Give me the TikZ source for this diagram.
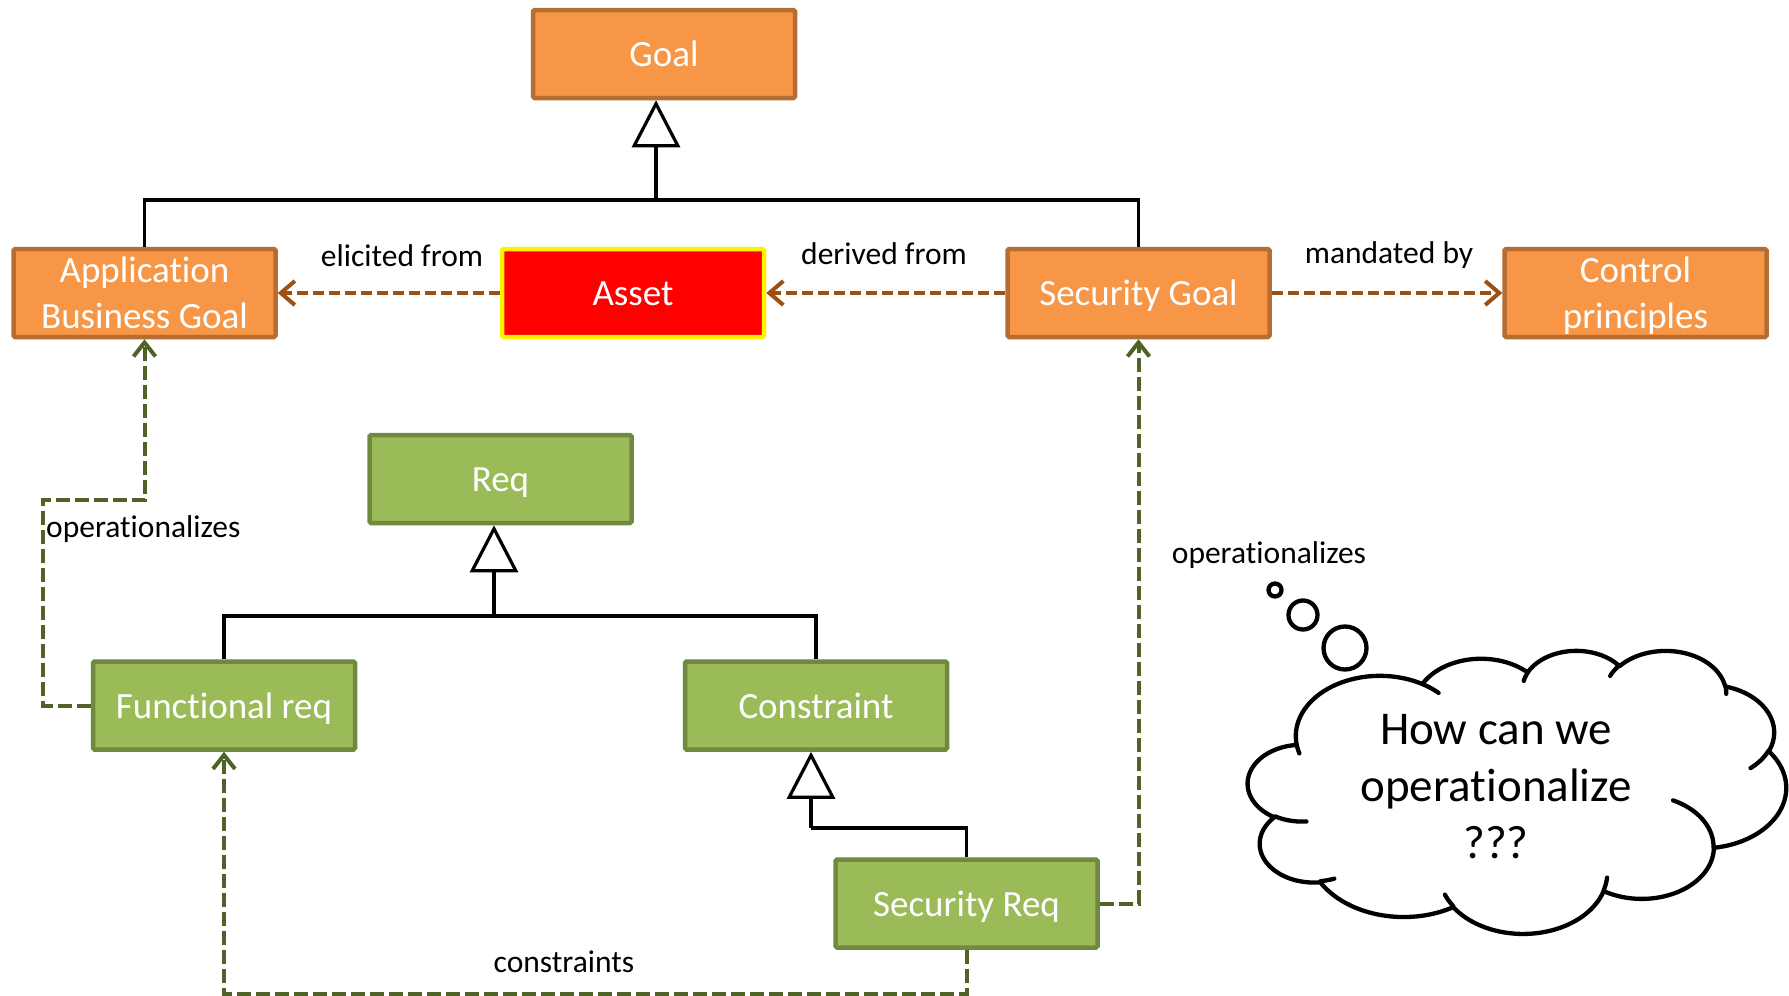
\documentclass[tikz,border=0pt]{standalone}
\usepackage{fontspec}
\setmainfont{Carlito}[Ligatures=NoCommon]
\usetikzlibrary{arrows.meta}
\definecolor{orfill}{HTML}{F79646}
\definecolor{ordraw}{HTML}{B66D31}
\definecolor{grfill}{HTML}{9BBB59}
\definecolor{grdraw}{HTML}{71893F}
\definecolor{brarrow}{HTML}{9E4F12}
\definecolor{grarrow}{HTML}{4F6228}
\tikzset{
  box/.style={draw, line width=4.5pt, rounded corners=1.5pt, minimum width=262pt, minimum height=88pt, inner sep=0pt, text=white, font=\fontsize{37}{46}\selectfont, align=center},
  oneline/.style={text height=28pt, text depth=3pt},
  twoline/.style={text depth=0pt},
  orbox/.style={box, fill=orfill, draw=ordraw},
  grbox/.style={box, fill=grfill, draw=grdraw},
  assetbox/.style={box, fill=red, draw=yellow},
  lbl/.style={font=\fontsize{31.5}{38}\selectfont, inner sep=0pt},
  genline/.style={line width=3.2pt, draw=black},
  gentip/.style={-{Triangle[fill=white, length=47pt, width=48pt, line width=3.2pt]}},
  brdash/.style={draw=brarrow, line width=4pt, dash pattern=on 11pt off 5pt, -{Straight Barb[length=14pt,width=24pt,line width=4pt]}},
  grdash/.style={draw=grarrow, line width=4pt, dash pattern=on 14pt off 5pt, -{Straight Barb[length=14pt,width=22pt,line width=4pt]}},
  cloudline/.style={draw=black, line width=4.3pt, line join=round, line cap=round},
  bubble/.style={circle, draw=black, line width=4.3pt, inner sep=0pt},
}
\begin{document}
\begin{tikzpicture}[x=1pt, y=-1pt]
\useasboundingbox (0,0) rectangle (1789,996);
\fill[white] (0,0) rectangle (1789,996);

% boxes
\node[orbox, oneline] (goal) at (664,54) {Goal};
\node[orbox, twoline] (abg) at (144.5,293) {Application\\Business Goal};
\node[assetbox, oneline] (asset) at (633,293) {Asset};
\node[orbox, oneline] (sg) at (1138.5,293) {Security Goal};
\node[orbox, twoline] (cp) at (1635.5,293) {Control\\principles};
\node[grbox, oneline] (req) at (500.5,479) {Req};
\node[grbox, oneline] (fr) at (224,705.5) {Functional req};
\node[grbox, oneline] (con) at (816,705.5) {Constraint};
\node[grbox, oneline] (sr) at (966.5,903.5) {Security Req};

% generalizations
\coordinate (j1) at (656,200);
\draw[genline] (abg.north) |- (j1) -| (sg.north);
\draw[genline, gentip] (j1) -- (j1 |- goal.south);
\coordinate (j2) at (494,616);
\draw[genline] (fr.north) |- (j2) -| (con.north);
\draw[genline, gentip] (j2) -- (j2 |- req.south);
\coordinate (j3) at (811,828);
\draw[genline] (sr.north) |- (j3);
\draw[genline, gentip] (j3) -- (j3 |- con.south);

% orange dashed
\draw[brdash] (asset.west) -- (abg.east);
\draw[brdash] (sg.west) -- (asset.east);
\draw[brdash] (sg.east) -- (cp.west);

% green dashed
\coordinate (op1) at (43,500);
\draw[grdash] (fr.west) -| (op1) -| (abg.south);
\draw[grdash] (sr.east) -| (sg.south);
\coordinate (cb) at (966.5,994);
\draw[grdash] (sr.south) -- (sr.south |- cb) -| (fr.south);

% labels
\node[lbl] (l1) at (402,256) {elicited from};
\node[lbl] (l2) at (884,254) {derived from};
\node[lbl] (l3) at (1389,255) {mandated by};
\node[lbl, anchor=west] (l4) at (46,529) {operationalizes};
\node[lbl] (l5) at (1269,555) {operationalizes};
\node[lbl] (l6) at (564,962) {constraints};

% thought bubbles
\node[bubble, minimum size=13pt] (b1) at (1275,590) {};
\node[bubble, minimum size=29pt] (b2) at (1303,615) {};
\node[bubble, minimum size=43pt] (b3) at (1345,648) {};

% cloud
\begin{scope}[shift={(1248pt,-650pt)}, x=0.12454pt, y=-0.0655pt]
\draw[cloudline, fill=white]
  plot[domain=-187.75:-59.67, samples=40, variable=\t] ({1059.1+675.3*cos(\t)},{1313.1+919.0*sin(\t)})
  -- plot[domain=-152.06:-45.46, samples=40, variable=\t] ({1871.3+533.3*cos(\t)},{860.2+726.7*sin(\t)})
  -- plot[domain=-153.49:-37.32, samples=40, variable=\t] ({2636.0+436.5*cos(\t)},{607.6+594.5*sin(\t)})
  -- plot[domain=-139.72:-10.22, samples=40, variable=\t] ({3353.7+485.7*cos(\t)},{673.6+659.5*sin(\t)})
  -- plot[domain=-74.77:23.21, samples=40, variable=\t] ({3691.6+533.3*cos(\t)},{1258.4+727.3*sin(\t)})
  -- plot[domain=-37.52:81.86, samples=40, variable=\t] ({3644.4+677.5*cos(\t)},{2106.5+922.0*sin(\t)})
  -- plot[domain=0.46:121.98, samples=40, variable=\t] ({3161.8+578.5*cos(\t)},{3012.9+786.7*sin(\t)})
  -- plot[domain=16.84:146.22, samples=40, variable=\t] ({2209.2+675.2*cos(\t)},{3413.3+921.5*sin(\t)})
  -- plot[domain=58.99:150.19, samples=40, variable=\t] ({1250.3+772.0*cos(\t)},{3022.1+1054.3*sin(\t)})
  -- plot[domain=83.31:223.12, samples=40, variable=\t] ({529.6+436.0*cos(\t)},{2958.3+591.8*sin(\t)})
  -- plot[domain=120.36:264.11, samples=40, variable=\t] ({431.0+434.5*cos(\t)},{2040.8+594.5*sin(\t)})
  -- cycle;
\draw[cloudline] plot[domain=85.54:120.36, samples=20, variable=\t] ({435.5+434.5*cos(\t)},{2025.0+594.5*sin(\t)});
\draw[cloudline] plot[domain=68.24:83.31, samples=20, variable=\t] ({531.2+436.0*cos(\t)},{2940.3+591.8*sin(\t)});
\draw[cloudline] plot[domain=146.22:158.47, samples=20, variable=\t] ({2209.0+675.2*cos(\t)},{3396.6+921.5*sin(\t)});
\draw[cloudline] plot[domain=4.74:16.84, samples=20, variable=\t] ({2209.8+675.2*cos(\t)},{3399.0+921.5*sin(\t)});
\draw[cloudline] plot[domain=-64.02:0.46, samples=20, variable=\t] ({3159.3+578.5*cos(\t)},{3002.6+786.7*sin(\t)});
\draw[cloudline] plot[domain=23.21:49.64, samples=20, variable=\t] ({3689.6+533.3*cos(\t)},{1248.8+727.3*sin(\t)});
\draw[cloudline] plot[domain=-10.22:0.82, samples=20, variable=\t] ({3354.4+485.7*cos(\t)},{659.6+659.5*sin(\t)});
\draw[cloudline] plot[domain=-156.30:-139.72, samples=20, variable=\t] ({3352.6+485.7*cos(\t)},{660.3+659.5*sin(\t)});
\draw[cloudline] plot[domain=-167.72:-153.49, samples=20, variable=\t] ({2640.6+436.5*cos(\t)},{598.5+594.5*sin(\t)});
\draw[cloudline] plot[domain=-59.67:-45.75, samples=20, variable=\t] ({1059.1+675.3*cos(\t)},{1313.1+919.0*sin(\t)});
\draw[cloudline] plot[domain=163.19:172.25, samples=20, variable=\t] ({1059.2+675.3*cos(\t)},{1313.1+919.0*sin(\t)});
\end{scope}
\node[font=\fontsize{47}{57}\selectfont, align=center, inner sep=0pt] (q) at (1496,787) {How can we\\operationalize\\???};
\end{tikzpicture}
\end{document}
